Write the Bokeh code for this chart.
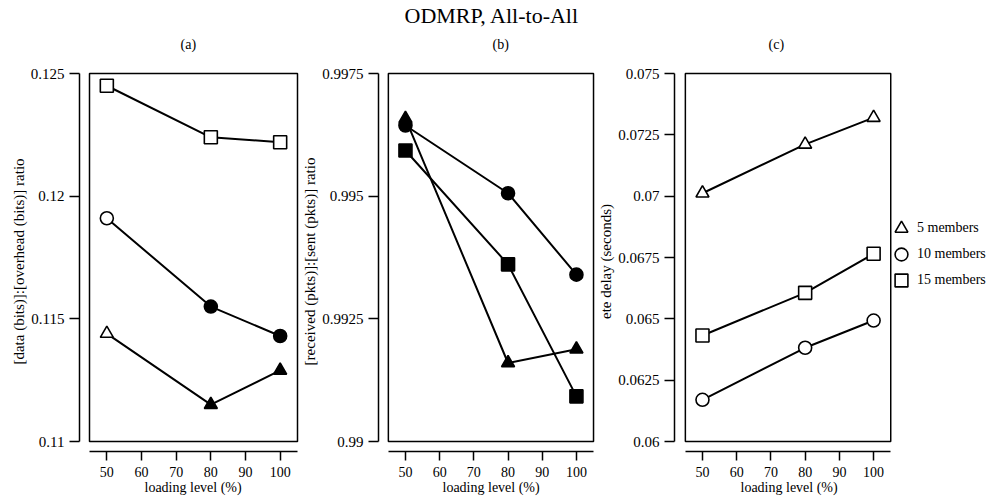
from bokeh.plotting import figure
from bokeh.models import (Range1d, FixedTicker, BoxAnnotation, LinearAxis, Title,
                          Legend, LegendItem, ColumnDataSource)
from bokeh.layouts import row
from bokeh.embed import file_html
from bokeh.resources import INLINE

# ---------------- data ----------------
loading = [50, 80, 100]
x_ticks = [50, 60, 70, 80, 90, 100]
x_tick_labels = ["50", "60", "70", "80", "90", "100"]
x_lo, x_hi = 45, 105

series_names = ["5 members", "10 members", "15 members"]
series_markers = ["triangle", "circle", "square"]

# (a) data:overhead ratio
ratio_5 = [0.1144, 0.1115, 0.1129]
ratio_10 = [0.1191, 0.1155, 0.1143]
ratio_15 = [0.1245, 0.1224, 0.1222]
ratio_filled_5 = [False, True, True]
ratio_filled_10 = [False, True, True]
ratio_filled_15 = [False, False, False]
ratio_ticks = [0.11, 0.115, 0.12, 0.125]
ratio_tick_labels = ["0.11", "0.115", "0.12", "0.125"]

# (b) received:sent ratio
recv_5 = [0.99658, 0.99160, 0.99188]
recv_10 = [0.99644, 0.99506, 0.99340]
recv_15 = [0.99593, 0.99361, 0.99092]
recv_filled_5 = [True, True, True]
recv_filled_10 = [True, True, True]
recv_filled_15 = [True, True, True]
recv_ticks = [0.99, 0.9925, 0.995, 0.9975]
recv_tick_labels = ["0.99", "0.9925", "0.995", "0.9975"]

# (c) end-to-end delay
delay_5 = [0.07012, 0.07211, 0.07320]
delay_10 = [0.06170, 0.06382, 0.06493]
delay_15 = [0.06432, 0.06606, 0.06765]
delay_filled_5 = [False, False, False]
delay_filled_10 = [False, False, False]
delay_filled_15 = [False, False, False]
delay_ticks = [0.06, 0.0625, 0.065, 0.0675, 0.07, 0.0725, 0.075]
delay_tick_labels = ["0.06", "0.0625", "0.065", "0.0675", "0.07", "0.0725", "0.075"]

main_title = "ODMRP, All-to-All"
x_label = "loading level (%)"

# ---------------- styling / layout ----------------
FONT = "Liberation Serif"
BOX_W, BOX_H = 208, 368
PAD = 2
GAP_Y = 10
FRAME_H = BOX_H + GAP_Y + PAD
TOP, HEIGHT = 71, 501


def spacer_axis(size):
    """Empty 'above' axis used only to open a vertical gap."""
    return LinearAxis(ticker=FixedTicker(ticks=[]), axis_label="\u00a0",
                      axis_label_standoff=size, axis_label_text_font_size="1px",
                      axis_line_color=None, major_tick_out=0, major_tick_in=0,
                      minor_tick_out=0, minor_tick_in=0, major_label_standoff=0)


def title(text, offset, size, valign="bottom"):
    return Title(text=text, align="left", offset=offset, standoff=0,
                 vertical_align=valign, text_font=FONT, text_font_size=size,
                 text_font_style="normal", text_color="black")


def make_panel(tag, tag_offset, xlab_offset, ylabel, values, filled, yticks, ylabels,
               gap_x, left_border, frame_w):
    y_lo, y_hi = yticks[0], yticks[-1]
    ux = (x_hi - x_lo) / BOX_W
    uy = (y_hi - y_lo) / BOX_H
    x_start = x_lo - gap_x * ux
    p = figure(width=left_border + frame_w, height=HEIGHT,
               x_range=Range1d(x_start, x_start + frame_w * ux),
               y_range=Range1d(y_lo - GAP_Y * uy, y_hi + PAD * uy),
               output_backend="svg", toolbar_location=None, title=None,
               min_border_left=left_border, min_border_right=0,
               min_border_top=TOP, min_border_bottom=HEIGHT - TOP - FRAME_H)
    p.outline_line_color = None
    p.background_fill_color = "white"
    p.border_fill_color = "white"
    p.xgrid.visible = False
    p.ygrid.visible = False

    for ax, ticks, labels, bounds in ((p.xaxis[0], x_ticks, x_tick_labels, (x_lo, x_hi)),
                                      (p.yaxis[0], yticks, ylabels, (y_lo, y_hi))):
        ax.ticker = FixedTicker(ticks=ticks)
        ax.major_label_overrides = {t: l for t, l in zip(ticks, labels)}
        ax.bounds = bounds
        ax.major_tick_in = 0
        ax.minor_tick_in = 0
        ax.minor_tick_out = 0
        ax.axis_line_width = 1.5
        ax.axis_line_color = "black"
        ax.major_tick_line_width = 1.5
        ax.major_tick_line_color = "black"
        ax.major_label_text_font = FONT
        ax.major_label_text_color = "black"
        ax.axis_label_text_font = FONT
        ax.axis_label_text_font_style = "normal"
        ax.axis_label_text_color = "black"
    p.xaxis[0].major_label_text_font_size = "14px"
    p.yaxis[0].major_label_text_font_size = "15px"
    p.yaxis[0].axis_label_text_font_size = "15px"
    p.xaxis[0].major_tick_out = 9
    p.yaxis[0].major_tick_out = 10
    p.xaxis[0].major_label_standoff = 6
    p.yaxis[0].major_label_standoff = 5
    p.yaxis[0].axis_label_standoff = 1
    p.yaxis[0].axis_label = ylabel
    p.xaxis[0].axis_label = None

    # x-axis caption placed under the tick labels
    p.add_layout(title(x_label, xlab_offset, "14px", "top"), "below")
    # panel tag, lifted off the frame by an empty spacer axis
    p.add_layout(spacer_axis(16), "above")
    p.add_layout(title(tag, tag_offset, "14px"), "above")

    p.add_layout(BoxAnnotation(left=x_lo, right=x_hi, bottom=y_lo, top=y_hi,
                               fill_alpha=0, fill_color=None, line_alpha=1,
                               line_color="black", line_width=1.5))

    scatters = []
    for vals, fl, mk in zip(values, filled, series_markers):
        src = ColumnDataSource(dict(x=loading, y=vals,
                                    fill=["black" if f else "white" for f in fl]))
        p.line("x", "y", source=src, line_color="black", line_width=2)
        r = p.scatter("x", "y", source=src, marker=mk, size=13,
                      fill_color="fill", line_color="black", line_width=1.6)
        scatters.append(r)
    return p, scatters


pa, _ = make_panel("(a)", 101, 65, "[data (bits)]:[overhead (bits)] ratio",
                   [ratio_5, ratio_10, ratio_15],
                   [ratio_filled_5, ratio_filled_10, ratio_filled_15],
                   ratio_ticks, ratio_tick_labels, 10, 79, 220)
pb, _ = make_panel("(b)", 114, 64, "[received (pkts)]:[sent (pkts)] ratio",
                   [recv_5, recv_10, recv_15],
                   [recv_filled_5, recv_filled_10, recv_filled_15],
                   recv_ticks, recv_tick_labels, 10, 76, 220)
pc, sc_c = make_panel("(c)", 94, 66, "ete delay (seconds)",
                      [delay_5, delay_10, delay_15],
                      [delay_filled_5, delay_filled_10, delay_filled_15],
                      delay_ticks, delay_tick_labels, 11, 75, 316)

# overall title above panel (b)
pb.add_layout(spacer_axis(3), "above")
pb.add_layout(title(main_title, 26, "22px"), "above")

legend_y = [206, 180, 154]
for name, r, ly in zip(series_names, sc_c, legend_y):
    lg = Legend(items=[LegendItem(label=name, renderers=[r])],
                location=(211, ly), glyph_width=32, glyph_height=34,
                padding=0, margin=0, border_line_color=None,
                background_fill_alpha=0, label_standoff=0,
                label_text_font=FONT, label_text_font_size="14px",
                label_text_color="black")
    pc.add_layout(lg)

layout = row(pa, pb, pc, spacing=0)
open("out.html", "w").write(file_html(layout, INLINE))
